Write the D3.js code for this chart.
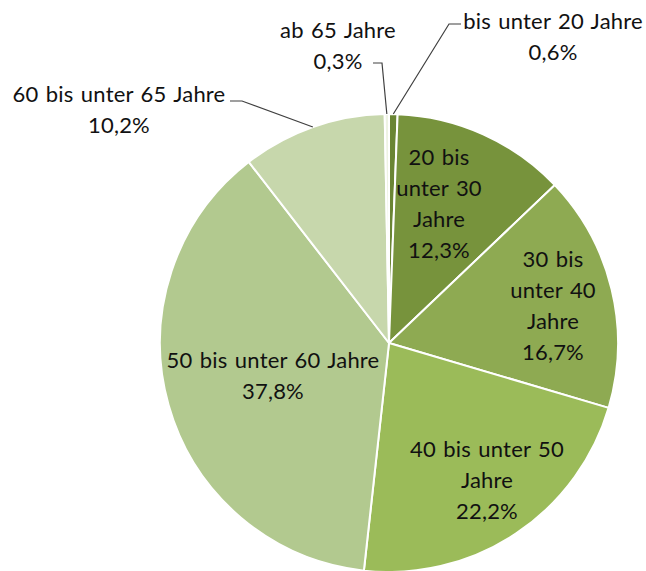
<!DOCTYPE html>
<html>
<head>
<meta charset="utf-8">
<script src="https://cdn.jsdelivr.net/npm/d3@7"></script>
<style>
  html, body { margin: 0; padding: 0; background: #fff; }
  svg { display: block; }
  text { font-family: Lato, "Open Sans", sans-serif; fill: #111; word-spacing: 1.5px; letter-spacing: 0.2px; }
</style>
</head>
<body>
<svg id="chart" width="646" height="571"></svg>
<script>
// age groups, clockwise from 12 o'clock
const categories = [
  "bis unter 20 Jahre",
  "20 bis unter 30 Jahre",
  "30 bis unter 40 Jahre",
  "40 bis unter 50 Jahre",
  "50 bis unter 60 Jahre",
  "60 bis unter 65 Jahre",
  "ab 65 Jahre"
];
const shares = [0.6, 12.3, 16.7, 22.2, 37.8, 10.2, 0.3];
const valueLabels = ["0,6%", "12,3%", "16,7%", "22,2%", "37,8%", "10,2%", "0,3%"];
// how the category text wraps in the chart
const labelLines = [
  ["bis unter 20 Jahre"],
  ["20 bis", "unter 30", "Jahre"],
  ["30 bis", "unter 40", "Jahre"],
  ["40 bis unter 50", "Jahre"],
  ["50 bis unter 60 Jahre"],
  ["60 bis unter 65 Jahre"],
  ["ab 65 Jahre"]
];
const colors = ["#6a8534", "#77933c", "#8eaa52", "#9bbb59", "#b2c98f", "#c7d7ac", "#eef3e3"];

const W = 646, H = 571;
const cx = 389, cy = 343, R = 229;
const FS = 22, LH = 31;

// label layout: text center x, first baseline y; leader = [textEnd, elbow] or null
const layout = [
  { x: 553, y: 29, leader: [[461, 24], [449, 24]] },
  { x: 439, y: 165 },
  { x: 553, y: 267 },
  { x: 487, y: 457 },
  { x: 273, y: 368 },
  { x: 119, y: 102, leader: [[230, 101], [242, 101]] },
  { x: 338, y: 38, leader: [[373, 63], [382, 63]] }
];

const svg = d3.select("#chart");
const g = svg.append("g").attr("transform", `translate(${cx},${cy})`);

const pie = d3.pie().sort(null).value(d => d).startAngle(0).endAngle(2 * Math.PI);
const arcs = pie(shares);
const arc = d3.arc().innerRadius(0).outerRadius(R);

g.selectAll("path.slice")
  .data(arcs)
  .join("path")
  .attr("class", "slice")
  .attr("d", arc)
  .attr("fill", (d, i) => colors[i])
  .attr("stroke", "#fff")
  .attr("stroke-width", 2)
  .attr("stroke-linejoin", "round");

// leader lines for the small / outside slices
arcs.forEach((d, i) => {
  const L = layout[i];
  if (!L.leader) return;
  const a = (d.startAngle + d.endAngle) / 2;
  const px = cx + Math.sin(a) * R, py = cy - Math.cos(a) * R;
  const pts = [...L.leader, [px, py]];
  svg.append("path")
    .attr("d", d3.line()(pts))
    .attr("fill", "none")
    .attr("stroke", "#404040")
    .attr("stroke-width", 1.2);
});

// labels
arcs.forEach((d, i) => {
  const L = layout[i];
  const lines = [...labelLines[i], valueLabels[i]];
  const t = svg.append("text")
    .attr("text-anchor", "middle")
    .attr("font-size", FS);
  lines.forEach((s, k) => {
    t.append("tspan").attr("x", L.x).attr("y", L.y + k * LH).text(s);
  });
});
</script>
</body>
</html>
